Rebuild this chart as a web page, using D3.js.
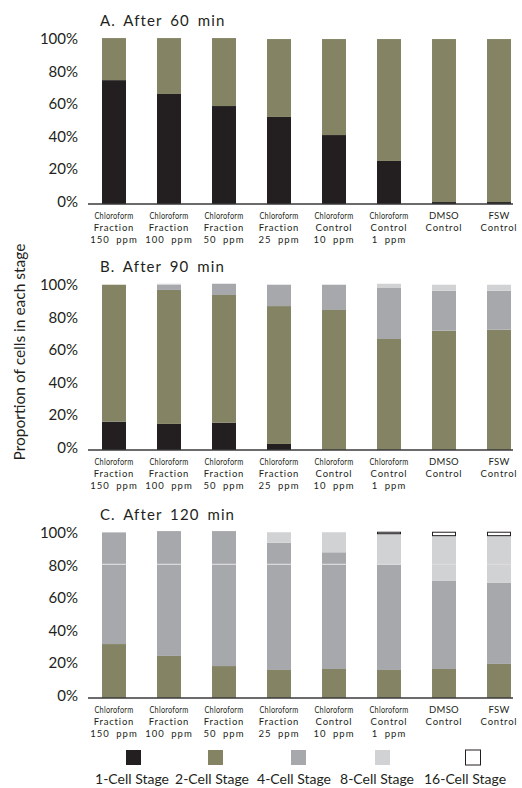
<!DOCTYPE html>
<html>
<head>
<meta charset="utf-8">
<title>Cell stages</title>
<style>
  body { margin: 0; background: #fff; }
  text { font-family: Lato, "Open Sans", sans-serif; fill: #231f20; }
  .tick-label { font-size: 15px; }
  .title { font-size: 15px; letter-spacing: 1.1px; word-spacing: 3px; }
  .cat { font-size: 9.5px; }
  .legend text { font-size: 14px; }
</style>
</head>
<body>
<svg width="522" height="788"></svg>
<script src="https://d3js.org/d3.v7.min.js"></script>
<script>
// groups on the x axis, three lines each
var categories = [
  ["Chloroform", "Fraction", "150 ppm"],
  ["Chloroform", "Fraction", "100 ppm"],
  ["Chloroform", "Fraction", "50 ppm"],
  ["Chloroform", "Fraction", "25 ppm"],
  ["Chloroform", "Control", "10 ppm"],
  ["Chloroform", "Control", "1 ppm"],
  ["DMSO", "Control", ""],
  ["FSW", "Control", ""]
];
var stages = ["1-Cell Stage", "2-Cell Stage", "4-Cell Stage", "8-Cell Stage", "16-Cell Stage"];
var yTicks = [0, 20, 40, 60, 80, 100];

// After 60 min (%)
var cell1_60 = [76, 67.5, 60.1, 53.4, 42.3, 26.4, 1.2, 1.2];
var cell2_60 = [25.8, 34.3, 41.7, 47.8, 58.9, 74.8, 100, 100];
// After 90 min (%)
var cell1_90 = [17.4, 16, 16.8, 3.7, 0, 0, 0, 0];
var cell2_90 = [84, 82.2, 78.3, 84.6, 85.9, 68.1, 73.2, 73.8];
var cell4_90 = [0, 3.2, 6.9, 13.1, 15.5, 31.3, 24.5, 23.9];
var cell8_90 = [0, 0.6, 0, 0, 0, 2.6, 3.7, 3.7];
// After 120 min (%)
var cell2_120 = [33.1, 25.8, 19.6, 17.2, 17.8, 17.2, 17.8, 20.9];
var cell4_120 = [68.5, 76.6, 82.8, 78.1, 71.6, 64.4, 54, 49.7];
var cell8_120 = [0, 0, 0, 6.4, 12.3, 19.2, 27.8, 29];
var cell16_120 = [0, 0, 0, 0, 0, 0.9, 2.1, 2.1];
var grid120 = 82;

var zeros = categories.map(function() { return 0; });
var panels = [
  { title: "A. After 60 min", top: 41, bottom: 204, series: [cell1_60, cell2_60, zeros, zeros, zeros] },
  { title: "B. After 90 min", top: 287, bottom: 450, series: [cell1_90, cell2_90, cell4_90, cell8_90, zeros] },
  { title: "C. After 120 min", top: 535, bottom: 698, series: [zeros, cell2_120, cell4_120, cell8_120, cell16_120], grid: grid120 }
];

var colors = ["#231f20", "#848465", "#a7a8ab", "#d1d2d4", "#ffffff"];

var svg = d3.select("svg");

var x = d3.scaleBand()
  .domain(d3.range(categories.length))
  .range([86.5, 526.5])
  .paddingInner(0.564)
  .paddingOuter(0.282);

panels.forEach(function(p) {
  var y = d3.scaleLinear().domain([0, 100]).range([p.bottom, p.top]);
  var g = svg.append("g");

  g.append("text")
    .attr("class", "title")
    .attr("x", 100)
    .attr("y", p.top - 15)
    .text(p.title);

  // tick labels, no axis line
  g.selectAll(".tick-label")
    .data(yTicks)
    .enter().append("text")
    .attr("class", "tick-label")
    .attr("x", 78)
    .attr("y", function(d) { return y(d) + 3; })
    .attr("text-anchor", "end")
    .text(function(d) { return d + "%"; });

  // stack
  var rows = categories.map(function(c, i) {
    var r = { i: i };
    p.series.forEach(function(s, k) { r[k] = s[i]; });
    return r;
  });
  var stack = d3.stack().keys(d3.range(stages.length))(rows);

  stack.forEach(function(layer, k) {
    g.selectAll(".s" + k)
      .data(layer.filter(function(d) { return d[1] - d[0] > 0; }))
      .enter().append("rect")
      .attr("x", function(d) { return x(d.data.i) + (k == 4 ? 0.5 : 0); })
      .attr("width", x.bandwidth() - (k == 4 ? 1 : 0))
      .attr("y", function(d) { return y(d[1]); })
      .attr("height", function(d) { return y(d[0]) - y(d[1]); })
      .attr("fill", colors[k])
      .attr("stroke", k == 4 ? "#231f20" : "none")
      .attr("stroke-width", 1);
  });

  // faint gridline, only visible on the bars
  if (p.grid) {
    g.selectAll(".grid")
      .data(categories)
      .enter().append("line")
      .attr("x1", function(d, i) { return x(i); })
      .attr("x2", function(d, i) { return x(i) + x.bandwidth(); })
      .attr("y1", y(p.grid)).attr("y2", y(p.grid))
      .attr("stroke", "#dcdcde")
      .attr("stroke-width", 1.2);
  }

  // baseline
  g.append("line")
    .attr("x1", 88).attr("x2", 513)
    .attr("y1", p.bottom).attr("y2", p.bottom)
    .attr("stroke", "#3a3a3a")
    .attr("stroke-width", 1.5);

  // category labels
  var cat = g.selectAll(".catg")
    .data(categories)
    .enter().append("text")
    .attr("class", "cat")
    .attr("text-anchor", "middle")
    .attr("transform", function(d, i) {
      return "translate(" + (x(i) + x.bandwidth() / 2) + "," + p.bottom + ")";
    });
  cat.append("tspan").attr("x", 0).attr("y", 15)
    .attr("textLength", function(d) { return d[0] == "Chloroform" ? 39 : null; })
    .attr("lengthAdjust", "spacingAndGlyphs")
    .style("letter-spacing", "0.3px")
    .text(function(d) { return d[0]; });
  cat.append("tspan").attr("x", 0).attr("y", 27)
    .style("letter-spacing", "0.8px")
    .text(function(d) { return d[1]; });
  cat.append("tspan").attr("x", 0).attr("y", 39)
    .style("letter-spacing", "1px").style("word-spacing", "3px")
    .text(function(d) { return d[2]; });
});

// y axis title
svg.append("text")
  .attr("transform", "translate(25,352) rotate(-90)")
  .attr("text-anchor", "middle")
  .style("font-size", "15.5px")
  .text("Proportion of cells in each stage");

// legend
var legendX = [133.5, 215.5, 298.5, 382.5, 473];
var labelX = [132, 212, 294, 377, 465];
var lg = svg.append("g").attr("class", "legend");
lg.selectAll("rect")
  .data(stages)
  .enter().append("rect")
  .attr("x", function(d, i) { return legendX[i] - 7.5; })
  .attr("y", 750)
  .attr("width", 15)
  .attr("height", 15)
  .attr("fill", function(d, i) { return colors[i]; })
  .attr("stroke", function(d, i) { return i == 4 ? "#231f20" : "none"; });
lg.selectAll("text")
  .data(stages)
  .enter().append("text")
  .attr("x", function(d, i) { return labelX[i]; })
  .attr("y", 784)
  .attr("text-anchor", "middle")
  .text(function(d) { return d; });
</script>
</body>
</html>
